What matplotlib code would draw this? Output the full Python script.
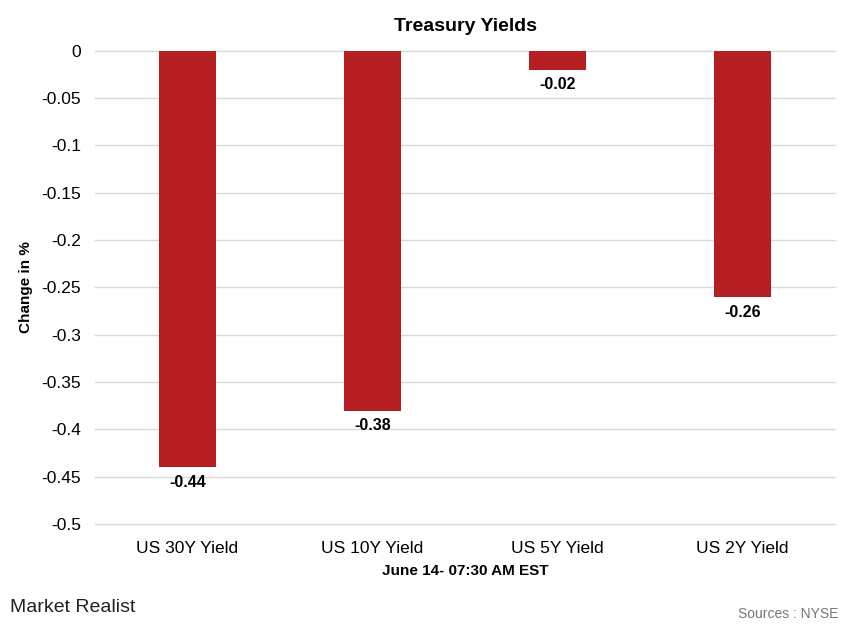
import matplotlib.pyplot as plt

categories = ['US 30Y Yield', 'US 10Y Yield', 'US 5Y Yield', 'US 2Y Yield']
changes = [-0.44, -0.38, -0.02, -0.26]
y_ticks = [0, -0.05, -0.1, -0.15, -0.2, -0.25, -0.3, -0.35, -0.4, -0.45, -0.5]

plt.rcParams['font.family'] = ['Liberation Sans', 'DejaVu Sans']

fig = plt.figure(figsize=(8.47, 6.27), dpi=100)
ax = fig.add_axes([0.112, 0.164, 0.874, 0.755])

x = range(len(categories))
bars = ax.bar(x, changes, width=0.31, color='#b51f24', zorder=3)

for bar, val in zip(bars, changes):
    ax.text(bar.get_x() + bar.get_width() / 2, val - 0.008, f'{val:.2f}',
            ha='center', va='top', fontsize=11.5, fontweight='bold')

ax.set_xlim(-0.5, len(categories) - 0.5)
ax.set_ylim(-0.5, 0)
ax.set_yticks(y_ticks)
ax.set_yticklabels([f'{t:g}' for t in y_ticks])
ax.set_xticks(list(x))
ax.set_xticklabels(categories)
ax.tick_params(axis='both', length=0, labelsize=12.5)
ax.tick_params(axis='y', pad=10)
ax.tick_params(axis='x', pad=12)
ax.grid(axis='y', color='#d9d9d9', linewidth=1, zorder=0)
for gl in ax.get_ygridlines():
    gl.set_clip_on(False)
for s in ax.spines.values():
    s.set_visible(False)

ax.set_title('Treasury Yields', fontsize=14, fontweight='bold', pad=14)
ax.set_ylabel('Change in %', fontsize=11, fontweight='bold', labelpad=6)
ax.set_xlabel('June 14- 07:30 AM EST', fontsize=11, fontweight='bold', labelpad=6)

fig.text(0.012, 0.024, 'Market Realist', fontsize=14, color='#222222')
fig.text(0.99, 0.015, 'Sources : NYSE', fontsize=10, color='#777777', ha='right')

fig.savefig('out.png', dpi=100)
